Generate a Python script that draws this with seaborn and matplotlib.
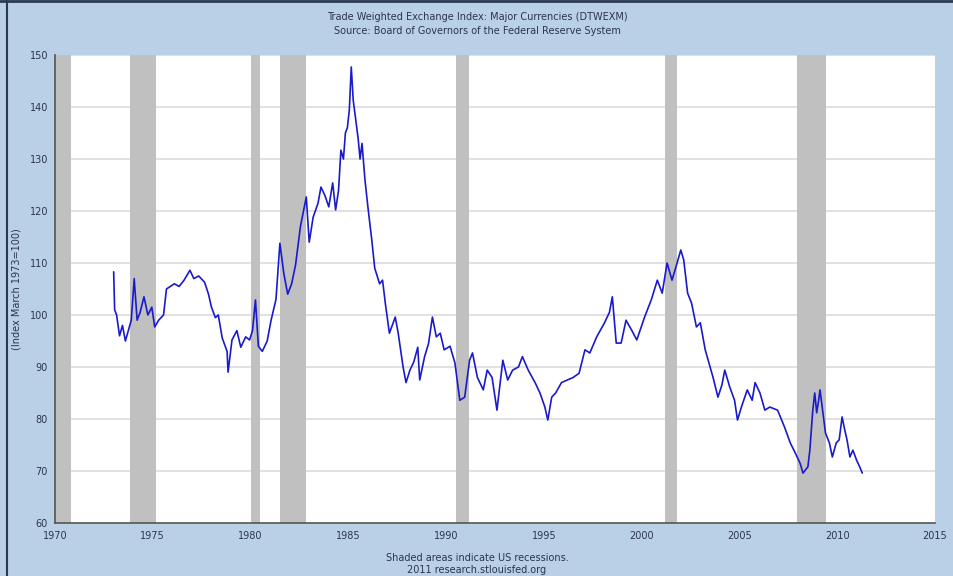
#!/usr/bin/env python3

import matplotlib
matplotlib.use("Agg")
import matplotlib.pyplot as plt
import matplotlib.ticker as mticker
import pandas as pd
import seaborn as sns

BG = "#b9d0e6"
LINE_COLOR = "#1a1acc"
TEXT_COLOR = "#2b3550"

# decimal year, index value
YEARS = [
    1973.00, 1973.05, 1973.15, 1973.30, 1973.45, 1973.60, 1973.75, 1973.90,
    1974.05, 1974.20, 1974.35, 1974.55, 1974.75, 1974.95, 1975.10, 1975.30,
    1975.55, 1975.70, 1975.90, 1976.10, 1976.35, 1976.60, 1976.90, 1977.10,
    1977.35, 1977.65, 1977.85, 1978.00, 1978.20, 1978.35, 1978.55, 1978.80,
    1978.85, 1979.05, 1979.30, 1979.50, 1979.75, 1979.95, 1980.10, 1980.25,
    1980.40, 1980.60, 1980.85, 1981.05, 1981.30, 1981.50, 1981.70, 1981.90,
    1982.10, 1982.30, 1982.55, 1982.85, 1983.00, 1983.20, 1983.45, 1983.60,
    1983.80, 1984.00, 1984.20, 1984.35, 1984.50, 1984.62, 1984.75, 1984.85,
    1984.95, 1985.05, 1985.15, 1985.25, 1985.40, 1985.50, 1985.60, 1985.70,
    1985.85, 1986.00, 1986.20, 1986.35, 1986.60, 1986.75, 1986.90, 1987.10,
    1987.40, 1987.55, 1987.80, 1987.95, 1988.15, 1988.35, 1988.55, 1988.65,
    1988.90, 1989.10, 1989.30, 1989.50, 1989.70, 1989.90, 1990.20, 1990.45,
    1990.70, 1990.95, 1991.20, 1991.35, 1991.60, 1991.90, 1992.10, 1992.35,
    1992.60, 1992.90, 1993.15, 1993.40, 1993.70, 1993.90, 1994.20, 1994.55,
    1994.80, 1995.05, 1995.20, 1995.40, 1995.60, 1995.90, 1996.20, 1996.50,
    1996.80, 1997.10, 1997.35, 1997.70, 1998.10, 1998.35, 1998.50, 1998.70,
    1998.95, 1999.20, 1999.50, 1999.75, 2000.15, 2000.50, 2000.80, 2001.05,
    2001.30, 2001.55, 2001.75, 2002.00, 2002.15, 2002.35, 2002.55, 2002.80,
    2003.00, 2003.25, 2003.65, 2003.90, 2004.10, 2004.25, 2004.50, 2004.75,
    2004.90, 2005.10, 2005.40, 2005.65, 2005.80, 2006.05, 2006.30, 2006.55,
    2006.95, 2007.30, 2007.60, 2007.85, 2008.10, 2008.25, 2008.50, 2008.60,
    2008.75, 2008.85, 2008.95, 2009.05, 2009.12, 2009.25, 2009.40, 2009.60,
    2009.75, 2009.95, 2010.10, 2010.25, 2010.35, 2010.50, 2010.65, 2010.80,
    2011.00, 2011.15, 2011.28,
]
VALUES = [
    108.3, 101.0, 100.0, 96.0, 98.0, 95.0, 97.0, 99.0,
    107.0, 99.0, 100.5, 103.5, 100.0, 101.5, 97.7, 99.0,
    100.0, 105.0, 105.5, 106.0, 105.5, 106.7, 108.6, 107.0,
    107.5, 106.3, 104.0, 101.5, 99.5, 100.0, 95.6, 93.0,
    89.0, 95.2, 97.0, 93.8, 95.8, 95.2, 97.0, 102.9,
    94.0, 93.0, 95.0, 99.0, 103.0, 113.8, 108.0, 104.0,
    106.0, 109.6, 117.0, 122.7, 114.0, 118.8, 121.5, 124.6,
    123.0, 120.8, 125.4, 120.2, 124.0, 131.7, 130.0, 135.0,
    136.0, 139.4, 147.7, 141.3, 137.0, 134.0, 130.0, 133.0,
    126.0, 120.8, 114.4, 109.0, 106.0, 106.7, 102.0, 96.5,
    99.6, 96.5, 90.0, 87.0, 89.4, 91.0, 93.8, 87.5,
    92.0, 94.5, 99.6, 95.8, 96.5, 93.3, 94.0, 90.8,
    83.6, 84.2, 91.3, 92.7, 88.0, 85.6, 89.4, 88.0,
    81.7, 91.3, 87.5, 89.4, 90.0, 92.0, 89.4, 87.0,
    85.0, 82.3, 79.8, 84.2, 85.0, 87.0, 87.5, 88.0,
    88.8, 93.3, 92.7, 95.8, 98.5, 100.5, 103.5, 94.6,
    94.6, 99.0, 97.0, 95.2, 99.6, 103.0, 106.7, 104.2,
    110.0, 106.7, 109.2, 112.5, 110.6, 104.2, 102.3, 97.7,
    98.5, 93.3, 88.0, 84.2, 86.5, 89.4, 86.2, 83.6,
    79.8, 82.3, 85.6, 83.6, 87.0, 85.0, 81.7, 82.3,
    81.7, 78.5, 75.4, 73.5, 71.5, 69.6, 70.8, 74.0,
    81.7, 85.0, 81.2, 83.6, 85.6, 81.7, 77.3, 75.4,
    72.7, 75.4, 76.0, 80.4, 78.5, 76.0, 72.7, 74.0,
    72.0, 70.8, 69.6,
]

# US recessions (start, end) as decimal years
REC_START = [1969.92, 1973.83, 1980.00, 1981.50, 1990.50, 2001.17, 2007.92]
REC_END = [1970.83, 1975.17, 1980.50, 1982.83, 1991.17, 2001.83, 2009.42]

df = pd.DataFrame({"year": YEARS, "value": VALUES})

sns.set_style("white")
plt.rcParams["font.family"] = ["DejaVu Sans"]

fig = plt.figure(figsize=(9.54, 5.76), dpi=100, facecolor=BG)
ax = fig.add_axes([55 / 954, 1 - 523 / 576, 880 / 954, 468 / 576])
ax.set_facecolor("white")

for s, e in zip(REC_START, REC_END):
    ax.axvspan(s, e, color="#c0c0c0", lw=0, zorder=1)

for v in range(70, 151, 10):
    ax.axhline(v, color="#dcdcdc", lw=1.2, zorder=0.5)

sns.lineplot(data=df, x="year", y="value", ax=ax, color=LINE_COLOR,
             lw=1.2, zorder=3)

ax.set_xlim(1970, 2015)
ax.set_ylim(60, 150)
ax.xaxis.set_major_locator(mticker.MultipleLocator(5))
ax.yaxis.set_major_locator(mticker.MultipleLocator(10))
ax.tick_params(axis="both", labelsize=7, colors="#404040", labelcolor=TEXT_COLOR,
               length=3, width=0.8, direction="out", pad=2)
ax.tick_params(axis="x", length=0, pad=6)
for side in ["top", "right"]:
    ax.spines[side].set_visible(False)
for side in ["left", "bottom"]:
    ax.spines[side].set_color("#555555")
    ax.spines[side].set_linewidth(1.2)

ax.set_xlabel("")
ax.set_ylabel("(Index March 1973=100)", fontsize=7, color=TEXT_COLOR)
ax.yaxis.set_label_coords(-0.038, 0.5)

fig.text(0.5, 1 - 17 / 576, "Trade Weighted Exchange Index: Major Currencies (DTWEXM)",
         ha="center", va="center", fontsize=7, color=TEXT_COLOR)
fig.text(0.5, 1 - 31 / 576, "Source: Board of Governors of the Federal Reserve System",
         ha="center", va="center", fontsize=7, color=TEXT_COLOR)
fig.text(0.5, 1 - 558 / 576, "Shaded areas indicate US recessions.",
         ha="center", va="center", fontsize=7, color=TEXT_COLOR)
fig.text(0.5, 1 - 570 / 576, "2011 research.stlouisfed.org",
         ha="center", va="center", fontsize=7, color=TEXT_COLOR)

# dark frame edges on top and left like the original screenshot
fig.add_artist(plt.Line2D([7 / 954, 7 / 954], [0, 1], color="#2a3a50", lw=1.5,
                          transform=fig.transFigure))
fig.add_artist(plt.Line2D([0, 1], [1 - 1 / 576, 1 - 1 / 576], color="#2a3a50",
                          lw=2, transform=fig.transFigure))

plt.savefig("out.png", dpi=100, facecolor=BG)
